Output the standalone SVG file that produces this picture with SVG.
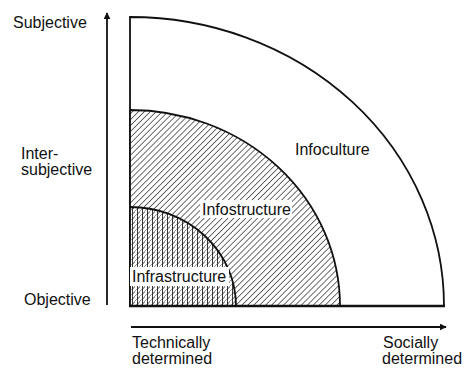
<svg xmlns="http://www.w3.org/2000/svg" width="468" height="372" viewBox="0 0 468 372">
<style>
text{font-family:"Liberation Sans",Arial,Helvetica,sans-serif;font-size:16px;fill:#111}
.region{stroke:#111;stroke-width:1.8;stroke-linejoin:miter}
.axis{stroke:#111;stroke-width:1.8;fill:none}
.bg{fill:#fff}
</style>
<defs>
<pattern id="diag" width="4.2" height="4.2" patternUnits="userSpaceOnUse" patternTransform="rotate(45)">
<rect width="4.2" height="4.2" fill="#fff"/>
<line x1="0" y1="0" x2="0" y2="4.2" stroke="#222" stroke-width="1.3"/>
</pattern>
<pattern id="cross" width="5" height="5" patternUnits="userSpaceOnUse">
<rect width="5" height="5" fill="url(#diag)"/>
<line x1="2.5" y1="0" x2="2.5" y2="5" stroke="#222" stroke-width="0.9"/>
</pattern>
<marker id="arr" viewBox="0 0 10 10" refX="9" refY="5" markerWidth="7" markerHeight="7" markerUnits="userSpaceOnUse" orient="auto">
<path d="M0,0 L10,5 L0,10 Z" fill="#111"/>
</marker>
</defs>
<rect width="468" height="372" fill="#fff"/>

<g id="infoculture">
<path class="region" d="M130,306 V17 A314,289 0 0 1 444,306 Z" fill="#fff"/>
<text x="295" y="155">Infoculture</text>
</g>
<g id="infostructure">
<path class="region" d="M130,306 V110 A210,196 0 0 1 340,306 Z" fill="url(#diag)"/>
</g>
<g id="infrastructure">
<path class="region" d="M130,306 V207 A106,99 0 0 1 236,306 Z" fill="url(#cross)"/>
</g>
<g id="infostructure-label">
<rect class="bg" x="200" y="200" width="92" height="18"/>
<text x="202" y="215">Infostructure</text>
</g>
<g id="infrastructure-label">
<rect class="bg" x="130" y="267" width="99" height="19"/>
<text x="132" y="282">Infrastructure</text>
</g>
<line x1="129" y1="306" x2="445" y2="306" stroke="#111" stroke-width="2.6"/>

<g id="connectors">
<line class="axis" x1="107" y1="305" x2="107" y2="13" marker-end="url(#arr)"/>
<line class="axis" x1="131" y1="327" x2="446" y2="327" marker-end="url(#arr)"/>
</g>

<g id="y-labels">
<text x="13" y="28">Subjective</text>
<text x="21" y="159">Inter-</text>
<text x="21" y="175">subjective</text>
<text x="24" y="305">Objective</text>
</g>
<g id="x-labels">
<text x="132" y="348">Technically</text>
<text x="132" y="364">determined</text>
<text x="383" y="348">Socially</text>
<text x="382" y="364">determined</text>
</g>
</svg>
